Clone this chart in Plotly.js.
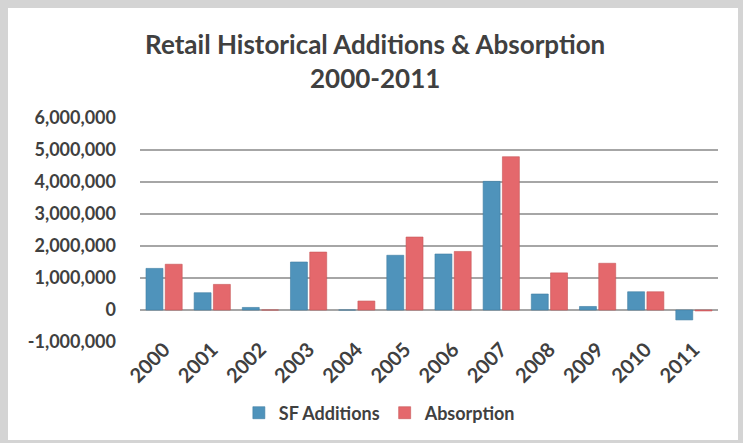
<!DOCTYPE html>
<html>
<head>
<meta charset="utf-8">
<script src="https://cdn.plot.ly/plotly-3.0.1.min.js"></script>
<style>
html,body{margin:0;padding:0;background:#d4d4d4;width:743px;height:443px;overflow:hidden;}
#frame{position:absolute;left:8px;top:8px;width:730px;height:432px;background:#fff;}
#chart{width:730px;height:432px;}
</style>
</head>
<body>
<div id="frame"><div id="chart"></div></div>
<script>
const years = ['2000','2001','2002','2003','2004','2005','2006','2007','2008','2009','2010','2011'];
const sfAdditions = [1300000, 540000, 80000, 1500000, 0, 1710000, 1750000, 4020000, 500000, 110000, 570000, -310000];
const absorption = [1430000, 800000, 0, 1810000, 280000, 2280000, 1830000, 4790000, 1160000, 1460000, 570000, -30000];
const yTicks = [-1000000, 0, 1000000, 2000000, 3000000, 4000000, 5000000, 6000000];
const yTickText = ['-1,000,000','0','1,000,000','2,000,000','3,000,000','4,000,000','5,000,000','6,000,000'];

const font = 'Lato, "Open Sans", sans-serif';
const data = [
  {type:'bar', name:'SF Additions', x:years, y:sfAdditions,
   marker:{color:'#4f93bb', line:{color:'#3f7ea3', width:0.6}}},
  {type:'bar', name:'Absorption', x:years, y:absorption,
   marker:{color:'#e4686c', line:{color:'#c85558', width:0.6}}}
];
const layout = {
  width:730, height:432,
  paper_bgcolor:'#ffffff', plot_bgcolor:'#ffffff',
  margin:{l:132, r:20, t:110, b:98, autoexpand:false},
  title:{text:'<b>Retail Historical Additions & Absorption<br>2000-2011</b>',
         font:{family:font, size:26, color:'#404040'}, x:0.503, xanchor:'center', y:0.893, yanchor:'top'},
  barmode:'group', bargap:0.2, bargroupgap:0.12,
  xaxis:{type:'category', tickangle:-45, showgrid:false, showline:false, zeroline:false,
         ticks:'', ticklabelstandoff:-9, automargin:false,
         tickfont:{family:font, size:20, color:'#404040', weight:'bold'}},
  yaxis:{range:[-1000000, 6000000], tickvals:yTicks, ticktext:yTickText, automargin:false,
         showgrid:true, gridcolor:'#a6a6a6', gridwidth:1.2, zeroline:true, zerolinecolor:'#a6a6a6', zerolinewidth:1.2,
         showline:false, ticks:'', ticklen:0, ticklabelstandoff:23,
         tickfont:{family:font, size:18, color:'#404040', weight:'bold'}},
  showlegend:true,
  legend:{orientation:'h', x:0.415, xanchor:'center', y:-0.317, yanchor:'middle',
          font:{family:font, size:18, color:'#404040', weight:'bold'}, itemwidth:30},
};
Plotly.newPlot('chart', data, layout, {displayModeBar:false, staticPlot:true});
</script>
</body>
</html>
